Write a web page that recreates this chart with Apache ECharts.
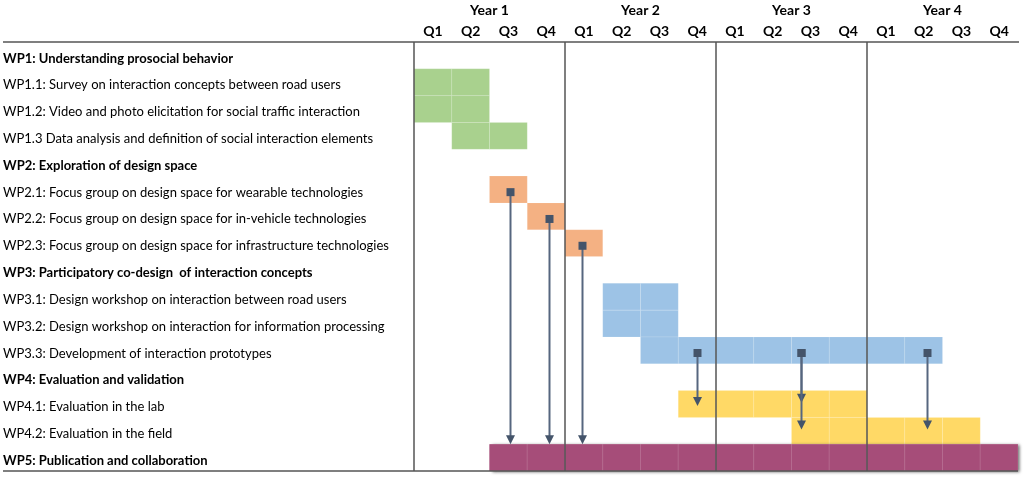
<!DOCTYPE html>
<html>
<head>
<meta charset="utf-8">
<script src="https://cdn.jsdelivr.net/npm/echarts@6/dist/echarts.min.js"></script>
<style>html,body{margin:0;padding:0;background:#fff;}#c{width:1024px;height:478px;}</style>
</head>
<body>
<div id="c"></div>
<script>
// ---- data ----
const rowLabels = [
  'WP1: Understanding prosocial behavior',
  'WP1.1: Survey on interaction concepts between road users',
  'WP1.2: Video and photo elicitation for social traffic interaction',
  'WP1.3 Data analysis and definition of social interaction elements',
  'WP2: Exploration of design space',
  'WP2.1: Focus group on design space for wearable technologies',
  'WP2.2: Focus group on design space for in-vehicle technologies',
  'WP2.3: Focus group on design space for infrastructure technologies',
  'WP3: Participatory co-design  of interaction concepts',
  'WP3.1: Design workshop on interaction between road users',
  'WP3.2: Design workshop on interaction for information processing',
  'WP3.3: Development of interaction prototypes',
  'WP4: Evaluation and validation',
  'WP4.1: Evaluation in the lab',
  'WP4.2: Evaluation in the field',
  'WP5: Publication and collaboration'
];
const boldRows = [0, 4, 8, 12, 15];
const quarterLabels = ['Q1','Q2','Q3','Q4','Q1','Q2','Q3','Q4','Q1','Q2','Q3','Q4','Q1','Q2','Q3','Q4'];
const yearLabels = ['Year 1','Year 2','Year 3','Year 4'];
const yearStarts = [0, 4, 8, 12];
// [row, startQuarter, endQuarter (exclusive), group]
const tasks = [
  [1, 0, 2, 0],
  [2, 0, 2, 0],
  [3, 1, 3, 0],
  [5, 2, 3, 1],
  [6, 3, 4, 1],
  [7, 4, 5, 1],
  [9, 5, 7, 2],
  [10, 5, 7, 2],
  [11, 6, 14, 2],
  [13, 7, 12, 3],
  [14, 10, 15, 3],
  [15, 2, 16, 4]
];
// [x (quarters), fromRow, toRow, toOffset (fraction of row)]
const arrows = [
  [2.55, 5, 15, -0.5],
  [3.58, 6, 15, -0.5],
  [4.45, 7, 15, -0.5],
  [7.5, 11, 13, 0.08],
  [10.25, 11, 13, -0.05],
  [10.25, 11, 14, -0.05],
  [13.6, 11, 14, -0.05]
];
const groupColors = ['#a9d18e', '#f4b183', '#9dc3e6', '#ffd966', '#a64d79'];

const FONT = 'Lato';
const chart = echarts.init(document.getElementById('c'), null, {renderer: 'canvas'});

function renderTask(params, api) {
  const row = api.value(0), s = api.value(1), e = api.value(2), g = api.value(3);
  const h = api.size([0, 1])[1];
  const children = [];
  const a = api.coord([s, row]), b = api.coord([e, row]);
  if (g === 4) {
    children.push({type: 'rect', shape: {x: a[0], y: a[1] - h / 2, width: b[0] - a[0], height: h},
      style: {fill: groupColors[g], shadowBlur: 3, shadowOffsetX: 2, shadowOffsetY: 1, shadowColor: 'rgba(0,0,0,0.6)'}});
  }
  for (let q = s; q < e; q++) {
    const p0 = api.coord([q, row]), p1 = api.coord([q + 1, row]);
    children.push({type: 'rect', shape: {x: p0[0], y: p0[1] - h / 2, width: p1[0] - p0[0], height: h},
      style: {fill: groupColors[g], stroke: 'rgba(255,255,255,0.12)', lineWidth: 1}});
  }
  return {type: 'group', children};
}

function renderYearLine(params, api) {
  const x = api.value(0);
  const h = api.size([0, 1])[1];
  const top = api.coord([x, 0]), bot = api.coord([x, rowLabels.length - 1]);
  return {type: 'line', shape: {x1: top[0], y1: top[1] - h / 2, x2: top[0], y2: bot[1] + h / 2},
    style: {stroke: '#555555', lineWidth: 1.5}};
}

function renderArrow(params, api) {
  const x = api.value(0), fr = api.value(1), tr = api.value(2), off = api.value(3);
  const h = api.size([0, 1])[1];
  const a = api.coord([x, fr]), b = api.coord([x, tr]);
  const px = Math.round(a[0]) + 0.5;
  const y0 = a[1] + 0.1 * h, y1 = b[1] + off * h;
  const col = '#44546a';
  return {type: 'group', children: [
    {type: 'line', shape: {x1: px, y1: y0, x2: px, y2: y1 - 8}, style: {stroke: '#56667f', lineWidth: 2}},
    {type: 'polygon', shape: {points: [[px - 4.5, y1 - 9], [px + 4.5, y1 - 9], [px, y1]]}, style: {fill: col}},
    {type: 'rect', shape: {x: px - 4, y: y0 - 4, width: 8, height: 8}, style: {fill: col}}
  ]};
}

const option = {
  backgroundColor: '#fff',
  animation: false,
  grid: {left: 414, right: 6, top: 42, bottom: 7},
  xAxis: [
    {type: 'value', min: 0, max: 16, interval: 1, position: 'bottom',
      axisLabel: {show: false}, axisLine: {show: false}, axisTick: {show: false}, splitLine: {show: false}},
    {type: 'category', data: quarterLabels, position: 'top', gridIndex: 0,
      axisLine: {show: false}, axisTick: {show: false}, splitLine: {show: false},
      axisLabel: {margin: 4, fontFamily: FONT, fontWeight: 'bold', fontSize: 14, color: '#000'}},
    {type: 'category', data: yearLabels, position: 'top', offset: 22, gridIndex: 0,
      axisLine: {show: false}, axisTick: {show: false}, splitLine: {show: false},
      axisLabel: {margin: 3, fontFamily: FONT, fontWeight: 'bold', fontSize: 14, color: '#000'}}
  ],
  yAxis: {
    type: 'category', data: rowLabels, inverse: true,
    axisLine: {show: false}, axisTick: {show: false}, splitLine: {show: false},
    axisLabel: {
      align: 'left', margin: 411, fontFamily: FONT, fontSize: 13, color: '#000',
      formatter: function (v, i) { return boldRows.indexOf(i) >= 0 ? '{b|' + v + '}' : '{n|' + v + '}'; },
      rich: {
        b: {fontFamily: FONT, fontWeight: 'bold', fontSize: 13, color: '#000', padding: [6, 0, 0, 0]},
        n: {fontFamily: FONT, fontSize: 13, color: '#000', padding: [6, 0, 0, 0]}
      }
    }
  },
  graphic: [
    {type: 'line', shape: {x1: 3, y1: 42, x2: 1019, y2: 42}, style: {stroke: '#555555', lineWidth: 1.5}, z: 10},
    {type: 'line', shape: {x1: 3, y1: 471, x2: 1018, y2: 471}, style: {stroke: '#555555', lineWidth: 1.5}, z: 10}
  ],
  series: [
    {type: 'custom', name: 'tasks', xAxisIndex: 0, renderItem: renderTask, data: tasks, z: 1,
      encode: {x: [1, 2], y: 0}},
    {type: 'custom', name: 'years', xAxisIndex: 0, renderItem: renderYearLine,
      data: yearStarts.map(function (v) { return [v]; }), z: 2, encode: {x: 0}},
    {type: 'custom', name: 'arrows', xAxisIndex: 0, renderItem: renderArrow, data: arrows, z: 3,
      encode: {x: 0, y: [1, 2]}}
  ]
};
chart.setOption(option);
</script>
</body>
</html>
